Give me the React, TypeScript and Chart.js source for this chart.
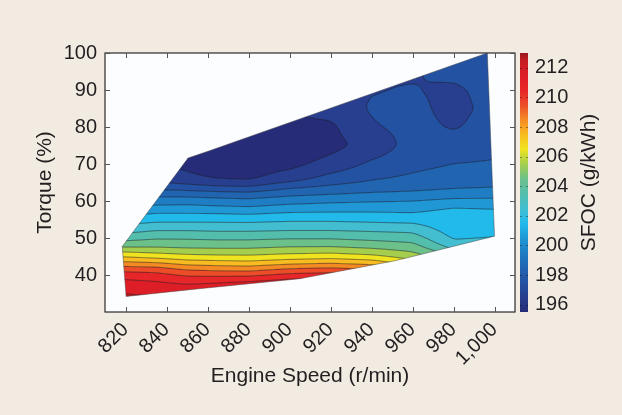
import React, { useEffect, useRef } from 'react';
import { Chart, registerables } from 'chart.js';

Chart.register(...registerables);

const FONT = "'Liberation Sans', Arial, Helvetica, sans-serif";
const TEXT = '#231f20';

const speedTicks = [820, 840, 860, 880, 900, 920, 940, 960, 980, 1000];
const speedTickLabels = ['820', '840', '860', '880', '900', '920', '940', '960', '980', '1,000'];
const torqueTicks = [40, 50, 60, 70, 80, 90, 100];
const sfocTicks = [196, 198, 200, 202, 204, 206, 208, 210, 212];
const contourLevels = [196, 197, 198, 199, 200, 201, 202, 203, 204, 205, 206, 207, 208, 209, 210, 211, 212];

// measured SFOC (g/kWh) on a speed x torque grid
const speedGrid = [818, 835, 850, 865, 880, 900, 920, 940, 960, 980, 1000];
const torqueGrid = [34, 36, 38, 40, 42, 44, 46, 48, 50, 52, 54, 56, 58, 60, 62, 64, 66, 70, 75, 80, 85, 90, 95, 100];
const sfocRows = [
  [212.2, 212.1, 212.0, 212.2, 212.4, 212.6, 212.8, 212.6, 212.4, 212.0, 211.5],
  [211.8, 211.7, 211.6, 211.7, 212.0, 212.3, 212.5, 212.0, 211.5, 210.5, 210.0],
  [211.3, 211.1, 210.8, 211.0, 211.2, 211.6, 211.7, 211.2, 210.5, 209.0, 208.5],
  [210.6, 210.4, 209.9, 209.8, 209.8, 210.3, 210.5, 210.0, 209.0, 207.5, 207.0],
  [209.3, 209.2, 208.6, 208.4, 208.3, 208.8, 209.0, 208.7, 207.5, 206.0, 205.5],
  [207.7, 207.4, 207.0, 206.9, 206.8, 207.1, 207.3, 207.0, 206.0, 204.8, 204.3],
  [206.2, 205.9, 205.7, 205.6, 205.6, 205.8, 205.9, 205.6, 205.1, 203.6, 203.2],
  [204.6, 204.7, 204.6, 204.6, 204.6, 204.8, 204.8, 204.6, 204.3, 202.4, 202.4],
  [203.6, 203.9, 203.9, 203.8, 203.8, 203.9, 203.9, 203.7, 203.5, 201.9, 202.1],
  [202.6, 203.0, 203.0, 202.9, 202.9, 203.0, 203.0, 202.9, 202.8, 201.5, 201.6],
  [201.8, 202.1, 202.1, 202.1, 202.1, 202.2, 202.2, 202.1, 202.0, 201.3, 201.3],
  [201.0, 201.3, 201.3, 201.3, 201.2, 201.4, 201.4, 201.3, 201.2, 201.4, 201.3],
  [200.0, 200.4, 200.4, 200.3, 200.2, 200.5, 200.6, 200.7, 200.7, 201.1, 201.0],
  [199.2, 199.5, 199.6, 199.4, 199.3, 199.6, 199.8, 199.9, 200.0, 200.3, 200.3],
  [198.4, 198.6, 198.5, 198.4, 198.3, 198.7, 198.9, 199.1, 199.2, 199.4, 199.5],
  [197.6, 197.5, 197.3, 197.0, 196.9, 197.7, 198.1, 198.4, 198.6, 198.8, 198.9],
  [196.8, 196.6, 196.2, 195.9, 195.8, 196.5, 197.4, 197.9, 198.2, 198.5, 198.6],
  [196.2, 196.0, 195.8, 195.6, 195.6, 195.7, 196.3, 197.2, 197.7, 198.0, 198.1],
  [196.0, 195.8, 195.6, 195.5, 195.5, 195.5, 195.7, 196.3, 197.4, 197.5, 197.7],
  [196.0, 195.8, 195.6, 195.5, 195.6, 195.6, 195.8, 196.9, 197.3, 196.9, 197.4],
  [196.0, 195.8, 195.6, 195.6, 195.7, 196.2, 196.4, 197.1, 197.25, 196.7, 197.3],
  [196.0, 195.8, 195.7, 195.7, 195.8, 196.5, 196.7, 196.95, 197.05, 196.8, 197.4],
  [196.0, 195.9, 195.8, 195.8, 195.9, 196.5, 196.8, 197.0, 196.9, 197.3, 197.6],
  [196.0, 195.9, 195.8, 195.8, 195.9, 196.5, 196.8, 197.0, 197.0, 197.6, 197.8],
];

// operating envelope
const boundarySpeed = [820.3, 856, 905, 951, 960, 1000, 996.5, 861, 850.5, 818.4, 820.3];
const boundaryTorque = [34.2, 36.3, 39.0, 43.8, 45.0, 50.5, 100, 73.6, 71.6, 47.7, 34.2];

// colour map (value -> rgb)
const paletteValues = [195.5, 196.5, 197.5, 198.5, 199.5, 200.5, 201.5, 202.5, 203.5, 204.5, 205.5, 206.5, 207.5, 208.5, 209.5, 210.5, 211.5, 212.5, 213];
const paletteColors = [
  [38, 44, 120], [40, 62, 142], [36, 82, 162], [33, 100, 176], [30, 125, 195],
  [32, 152, 214], [34, 186, 234], [66, 190, 208], [84, 190, 172], [108, 192, 138],
  [165, 206, 78], [240, 228, 32], [248, 188, 32], [244, 138, 36], [236, 76, 40],
  [230, 38, 40], [222, 30, 38], [196, 28, 34], [150, 24, 30],
];

function palette(v: number): number[] {
  const n = paletteValues.length;
  if (v <= paletteValues[0]) return paletteColors[0];
  if (v >= paletteValues[n - 1]) return paletteColors[n - 1];
  for (let i = 0; i < n - 1; i++) {
    if (v <= paletteValues[i + 1]) {
      const f = (v - paletteValues[i]) / (paletteValues[i + 1] - paletteValues[i]);
      const a = paletteColors[i], b = paletteColors[i + 1];
      return [a[0] + (b[0] - a[0]) * f, a[1] + (b[1] - a[1]) * f, a[2] + (b[2] - a[2]) * f];
    }
  }
  return paletteColors[n - 1];
}

function bandColor(v: number): number[] {
  let b = Math.floor(v) + 0.5;
  if (b < 195.5) b = 195.5;
  if (b > 212.5) b = 212.5;
  return palette(b);
}

function locate(arr: number[], v: number): [number, number] {
  const n = arr.length;
  if (v <= arr[0]) return [0, 0];
  if (v >= arr[n - 1]) return [n - 2, 1];
  for (let i = 0; i < n - 1; i++) {
    if (v <= arr[i + 1]) return [i, (v - arr[i]) / (arr[i + 1] - arr[i])];
  }
  return [n - 2, 1];
}

function sfocAt(s: number, t: number): number {
  const [i, fx] = locate(speedGrid, s);
  const [j, fy] = locate(torqueGrid, t);
  const r0 = sfocRows[j], r1 = sfocRows[j + 1];
  const a = r0[i] * (1 - fx) + r0[i + 1] * fx;
  const b = r1[i] * (1 - fx) + r1[i + 1] * fx;
  return a * (1 - fy) + b * fy;
}

function boxBlur(src: Float32Array, W: number, H: number, r: number): Float32Array {
  const tmp = new Float32Array(W * H);
  const out = new Float32Array(W * H);
  const n = 2 * r + 1;
  for (let y = 0; y < H; y++) {
    for (let x = 0; x < W; x++) {
      let s = 0;
      for (let k = -r; k <= r; k++) {
        const xx = Math.min(W - 1, Math.max(0, x + k));
        s += src[y * W + xx];
      }
      tmp[y * W + x] = s / n;
    }
  }
  for (let y = 0; y < H; y++) {
    for (let x = 0; x < W; x++) {
      let s = 0;
      for (let k = -r; k <= r; k++) {
        const yy = Math.min(H - 1, Math.max(0, y + k));
        s += tmp[yy * W + x];
      }
      out[y * W + x] = s / n;
    }
  }
  return out;
}

const fieldPlugin = {
  id: 'sfocField',
  beforeDraw(chart: any) {
    const { ctx, chartArea: a } = chart;
    ctx.save();
    ctx.fillStyle = '#fcfdfe';
    ctx.fillRect(a.left, a.top, a.right - a.left, a.bottom - a.top);
    ctx.restore();
  },
  beforeDatasetsDraw(chart: any) {
    const { ctx, chartArea: a, scales } = chart;
    const xs = scales.x, ys = scales.y;
    const L = Math.floor(a.left), T = Math.floor(a.top);
    const W = Math.ceil(a.right) - L, H = Math.ceil(a.bottom) - T;
    let f = new Float32Array(W * H);
    for (let j = 0; j < H; j++) {
      const t = ys.getValueForPixel(T + j + 0.5);
      for (let i = 0; i < W; i++) {
        const s = xs.getValueForPixel(L + i + 0.5);
        f[j * W + i] = sfocAt(s, t);
      }
    }
    f = boxBlur(f, W, H, 3);
    f = boxBlur(f, W, H, 3);

    const off = document.createElement('canvas');
    off.width = W; off.height = H;
    const octx = off.getContext('2d') as CanvasRenderingContext2D;
    const img = octx.createImageData(W, H);
    for (let k = 0; k < W * H; k++) {
      const c = bandColor(f[k]);
      img.data[k * 4] = c[0];
      img.data[k * 4 + 1] = c[1];
      img.data[k * 4 + 2] = c[2];
      img.data[k * 4 + 3] = 255;
    }
    octx.putImageData(img, 0, 0);

    ctx.save();
    ctx.beginPath();
    boundarySpeed.forEach((s, k) => {
      const px = xs.getPixelForValue(s), py = ys.getPixelForValue(boundaryTorque[k]);
      if (k === 0) ctx.moveTo(px, py); else ctx.lineTo(px, py);
    });
    ctx.closePath();
    ctx.clip();
    ctx.drawImage(off, L, T);

    const lvMin = contourLevels[0], lvMax = contourLevels[contourLevels.length - 1];
    ctx.strokeStyle = 'rgba(30,32,40,0.7)';
    ctx.lineWidth = 0.8;
    ctx.beginPath();
    for (let j = 0; j < H - 1; j++) {
      for (let i = 0; i < W - 1; i++) {
        const va = f[j * W + i], vb = f[j * W + i + 1];
        const vc = f[(j + 1) * W + i + 1], vd = f[(j + 1) * W + i];
        const mn = Math.min(va, vb, vc, vd), mx = Math.max(va, vb, vc, vd);
        let lv = Math.ceil(mn);
        if (lv === mn) lv += 1;
        for (; lv <= mx; lv++) {
          if (lv < lvMin || lv > lvMax) continue;
          const pts: number[][] = [];
          if ((va > lv) !== (vb > lv)) pts.push([i + (lv - va) / (vb - va), j]);
          if ((vb > lv) !== (vc > lv)) pts.push([i + 1, j + (lv - vb) / (vc - vb)]);
          if ((vd > lv) !== (vc > lv)) pts.push([i + (lv - vd) / (vc - vd), j + 1]);
          if ((va > lv) !== (vd > lv)) pts.push([i, j + (lv - va) / (vd - va)]);
          for (let p = 0; p + 1 < pts.length; p += 2) {
            ctx.moveTo(L + 0.5 + pts[p][0], T + 0.5 + pts[p][1]);
            ctx.lineTo(L + 0.5 + pts[p + 1][0], T + 0.5 + pts[p + 1][1]);
          }
        }
      }
    }
    ctx.stroke();
    ctx.restore();
  },
  afterDatasetsDraw(chart: any) {
    const { ctx, chartArea: a, scales } = chart;
    const xs = scales.x, ys = scales.y, y2 = scales.y2;
    ctx.save();
    // frame
    ctx.strokeStyle = '#2a2a2a';
    ctx.lineWidth = 1.2;
    ctx.strokeRect(a.left, a.top, a.right - a.left, a.bottom - a.top);
    // inward ticks
    ctx.strokeStyle = '#555';
    ctx.lineWidth = 1;
    ctx.beginPath();
    speedTicks.forEach((v) => {
      const x = Math.round(xs.getPixelForValue(v)) + 0.5;
      ctx.moveTo(x, a.bottom); ctx.lineTo(x, a.bottom - 5);
      ctx.moveTo(x, a.top); ctx.lineTo(x, a.top + 5);
    });
    torqueTicks.forEach((v) => {
      const y = Math.round(ys.getPixelForValue(v)) + 0.5;
      ctx.moveTo(a.left, y); ctx.lineTo(a.left + 5, y);
      ctx.moveTo(a.right, y); ctx.lineTo(a.right - 5, y);
    });
    ctx.stroke();
    // colour bar
    const x0 = a.right + 5, bw = 8;
    for (let py = Math.floor(a.top); py < Math.ceil(a.bottom); py++) {
      const c = palette(y2.getValueForPixel(py + 0.5));
      ctx.fillStyle = `rgb(${Math.round(c[0])},${Math.round(c[1])},${Math.round(c[2])})`;
      ctx.fillRect(x0, py, bw, 1);
    }
    ctx.strokeStyle = 'rgba(0,0,0,0.35)';
    ctx.beginPath();
    sfocTicks.forEach((v) => {
      const y = Math.round(y2.getPixelForValue(v)) + 0.5;
      ctx.moveTo(x0, y); ctx.lineTo(x0 + 2, y);
      ctx.moveTo(x0 + bw - 2, y); ctx.lineTo(x0 + bw, y);
    });
    ctx.stroke();
    // colour bar title
    ctx.translate(589, (a.top + a.bottom) / 2);
    ctx.rotate(-Math.PI / 2);
    ctx.fillStyle = TEXT;
    ctx.font = `21px ${FONT}`;
    ctx.textAlign = 'center';
    ctx.textBaseline = 'middle';
    ctx.fillText('SFOC (g/kWh)', 0, 0);
    ctx.restore();
  },
};

export default function App() {
  const ref = useRef<HTMLCanvasElement | null>(null);
  useEffect(() => {
    if (!ref.current) return;
    const tickFont = { family: FONT, size: 20 };
    const titleFont = { family: FONT, size: 21 };
    const chart = new Chart(ref.current, {
      type: 'scatter',
      data: {
        datasets: [
          {
            data: boundarySpeed.map((s, k) => ({ x: s, y: boundaryTorque[k] })),
            showLine: true,
            borderColor: 'rgba(70,70,70,0.6)',
            borderWidth: 0.8,
            pointRadius: 0,
            fill: false,
            tension: 0,
            xAxisID: 'x',
            yAxisID: 'y',
          },
        ],
      },
      options: {
        animation: false,
        responsive: false,
        maintainAspectRatio: false,
        events: [],
        layout: { padding: { top: 53, left: 0, right: 0, bottom: 0 } },
        plugins: { legend: { display: false }, tooltip: { enabled: false } },
        scales: {
          x: {
            type: 'linear',
            min: 810,
            max: 1010,
            afterBuildTicks: (s: any) => { s.ticks = speedTicks.map((v) => ({ value: v })); },
            afterFit: (s: any) => { s.height = 103; },
            grid: { display: false, drawTicks: false },
            border: { display: false },
            ticks: {
              font: tickFont,
              color: TEXT,
              minRotation: 45,
              maxRotation: 45,
              autoSkip: false,
              padding: 6,
              callback: (v: any) => speedTickLabels[speedTicks.indexOf(Number(v))] ?? '',
            },
            title: { display: true, text: 'Engine Speed (r/min)', font: titleFont, color: TEXT, padding: { top: 0, bottom: 26 } },
          },
          y: {
            type: 'linear',
            position: 'left',
            min: 30,
            max: 100,
            afterBuildTicks: (s: any) => { s.ticks = torqueTicks.map((v) => ({ value: v })); },
            afterFit: (s: any) => { s.width = 105; },
            grid: { display: false, drawTicks: false },
            border: { display: false },
            ticks: { font: tickFont, color: TEXT, padding: 8, autoSkip: false },
            title: { display: true, text: 'Torque (%)', font: titleFont, color: TEXT, padding: { top: 33, bottom: 0 } },
          },
          y2: {
            type: 'linear',
            position: 'right',
            min: 195.5,
            max: 213,
            afterBuildTicks: (s: any) => { s.ticks = sfocTicks.map((v) => ({ value: v })); },
            afterFit: (s: any) => { s.width = 107; },
            grid: { display: false, drawTicks: false },
            border: { display: false },
            ticks: { font: tickFont, color: TEXT, padding: 20, autoSkip: false },
            title: { display: false },
          },
        },
      } as any,
      plugins: [fieldPlugin as any],
    });
    return () => chart.destroy();
  }, []);

  return (
    <div style={{ position: 'fixed', left: 0, top: 0, width: 622, height: 415, background: '#f1ebe2' }}>
      <canvas ref={ref} width={622} height={415} style={{ display: 'block' }} />
    </div>
  );
}
